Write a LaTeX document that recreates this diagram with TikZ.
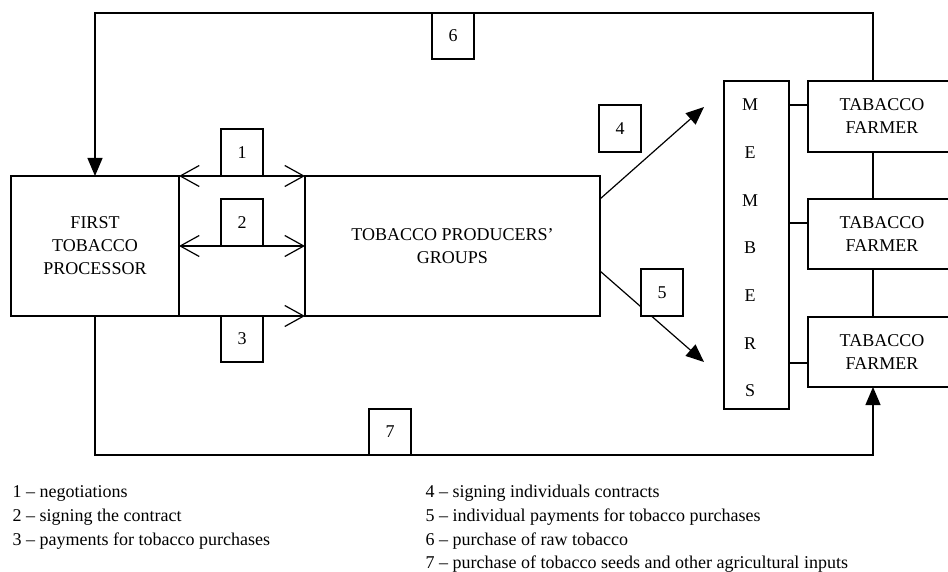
\documentclass[tikz,border=0pt]{standalone}
\usepackage{fontspec}
\setmainfont{Liberation Serif}
\usetikzlibrary{arrows.meta}
\tikzset{
  box/.style={draw, fill=white, inner sep=0pt, outer sep=0pt, align=center, font=\fontsize{18}{23}\selectfont},
  numbox/.style={draw, fill=white, inner sep=0pt, outer sep=0pt, minimum width=42pt, font=\fontsize{18}{23}\selectfont},
  openboth/.style={{Straight Barb[length=19pt,width=21pt]}-{Straight Barb[length=19pt,width=21pt]}},
  openone/.style={-{Straight Barb[length=19pt,width=21pt]}},
  tri/.style={-{Triangle[length=18pt,width=15pt]}},
  legend/.style={anchor=base west, inner sep=0pt, font=\fontsize{18}{18}\selectfont},
}
\begin{document}
\begin{tikzpicture}[x=1pt,y=-1pt,line width=1.2pt]
\useasboundingbox (0,0) rectangle (948,572);
\clip (0,0) rectangle (948,572);
% main boxes
\node[box, minimum width=168pt, minimum height=140pt] (proc) at (95,246) {FIRST\\TOBACCO\\PROCESSOR};
\node[box, minimum width=295pt, minimum height=140pt] (prod) at (452.5,246) {TOBACCO PRODUCERS'\\GROUPS};
\node[box, minimum width=65pt, minimum height=328pt] (mem) at (756.5,245) {};
\node[inner sep=0pt, align=center, font=\fontsize{18}{47.7}\selectfont] (memtext) at (750,248) {M\\E\\M\\B\\E\\R\\S};
\node[box, minimum width=148pt, minimum height=71pt] (fa1) at (882,116.5) {TABACCO\\FARMER};
\node[box, minimum width=148pt, minimum height=70pt] (fa2) at (882,234) {TABACCO\\FARMER};
\node[box, minimum width=148pt, minimum height=70pt] (fa3) at (882,352) {TABACCO\\FARMER};
% coordinates
\coordinate (t6) at (873,13);
\coordinate (b7) at (873,455);
\coordinate (h4) at (704,107);
\coordinate (h5) at (704,362);
% connectors
\draw[openboth] (proc.north east) -- (prod.north west);
\draw[openboth] (proc.east) -- (prod.west);
\draw[openone] (proc.south east) -- (prod.south west);
\draw[tri] (fa1.north -| t6) -- (t6) -| (proc.north);
\draw[tri] (proc.south) |- (b7) -- (fa3.south -| b7);
\draw[tri] ([yshift=47pt]prod.east) -- (h4);
\draw[tri] ([yshift=-25pt]prod.east) -- (h5);
\draw (fa1.south -| t6) -- (fa2.north -| t6);
\draw (fa2.south -| t6) -- (fa3.north -| t6);
\draw ([yshift=11.5pt]fa1.west) -- +(-19,0);
\draw ([yshift=11pt]fa2.west) -- +(-19,0);
\draw ([yshift=-11pt]fa3.west) -- +(-19,0);
% number boxes
\node[numbox, minimum height=47pt] (n1) at (242,152.5) {1};
\node[numbox, minimum height=47pt] (n2) at (242,222.5) {2};
\node[numbox, minimum height=46pt] (n3) at (242,339) {3};
\node[numbox, minimum height=47pt] (n4) at (620,128.5) {4};
\node[numbox, minimum height=47pt] (n5) at (662,292.5) {5};
\node[numbox, minimum height=46pt] (n6) at (453,36) {6};
\node[numbox, minimum height=46pt] (n7) at (390,432) {7};
% legend
\node[legend] (l1) at (12,497) {1 -- negotiations};
\node[legend] (l2) at (12,521) {2 -- signing the contract};
\node[legend] (l3) at (12,545) {3 -- payments for tobacco purchases};
\node[legend] (l4) at (425,497) {4 -- signing individuals contracts};
\node[legend] (l5) at (425,521) {5 -- individual payments for tobacco purchases};
\node[legend] (l6) at (425,545) {6 -- purchase of raw tobacco};
\node[legend] (l7) at (425,568) {7 -- purchase of tobacco seeds and other agricultural inputs};
\end{tikzpicture}
\end{document}
